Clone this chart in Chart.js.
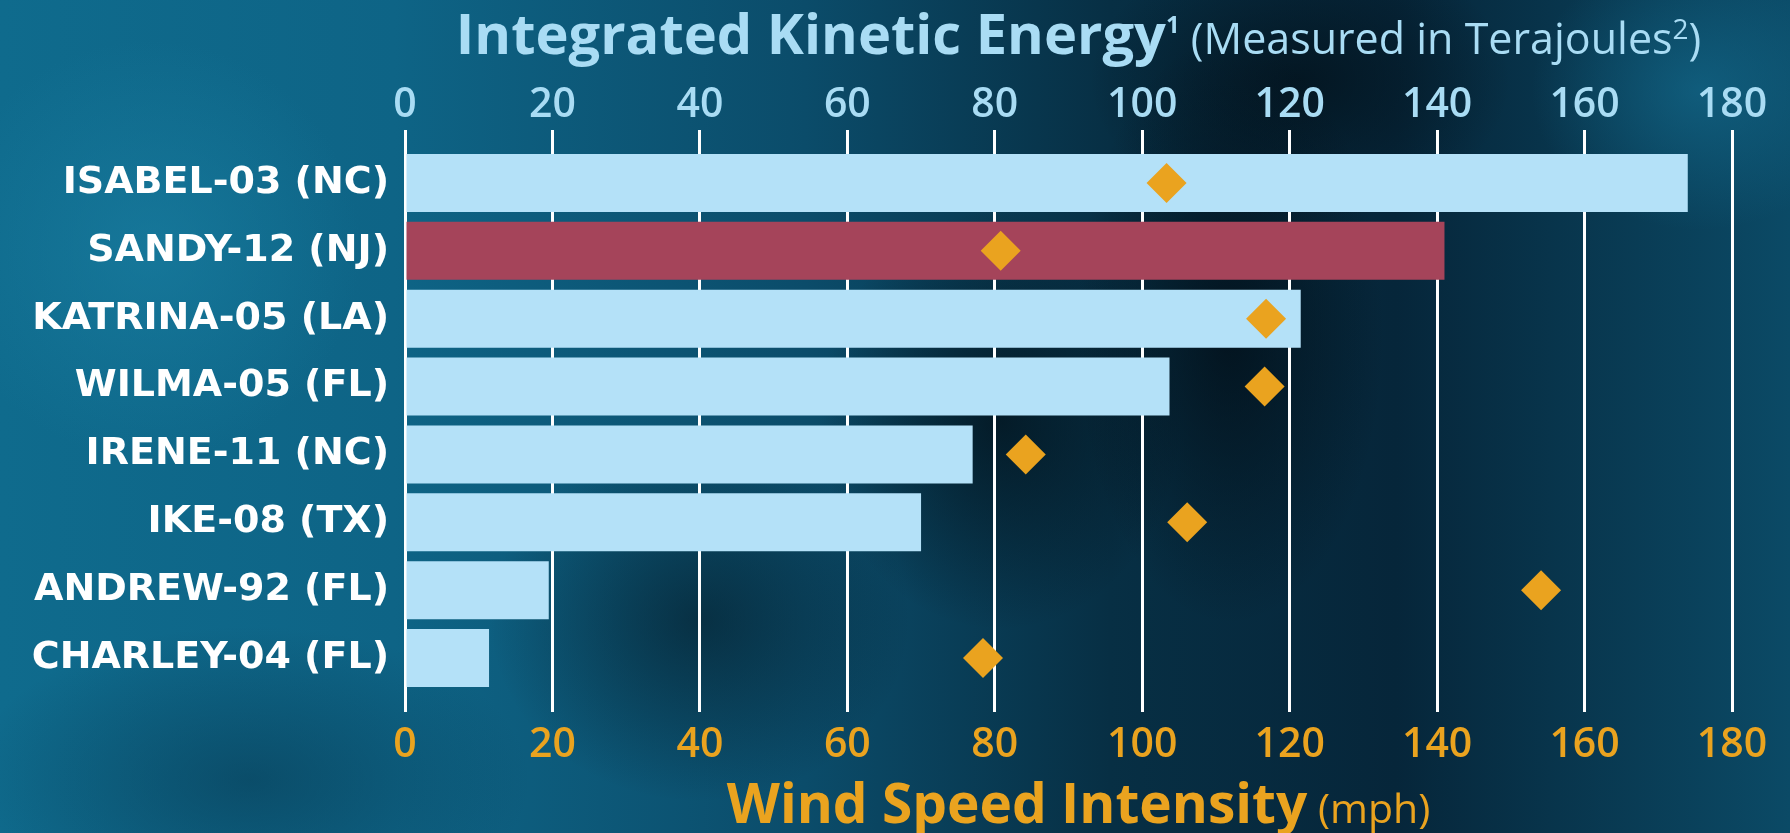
<!DOCTYPE html>
<html>
<head>
<meta charset="utf-8">
<script src="https://cdn.jsdelivr.net/npm/chart.js@4.4.1/dist/chart.umd.min.js"></script>
<style>
html, body { margin:0; padding:0; width:1790px; height:833px; overflow:hidden; }
body {
  background:
    radial-gradient(ellipse 220px 420px at 1230px 330px, rgba(2,12,20,0.75), rgba(2,12,20,0) 70%),
    radial-gradient(ellipse 300px 200px at 1300px 80px, rgba(3,18,28,0.8), rgba(3,18,28,0) 70%),
    radial-gradient(ellipse 260px 300px at 1000px 420px, rgba(2,14,22,0.7), rgba(2,14,22,0) 70%),
    radial-gradient(ellipse 300px 260px at 700px 620px, rgba(4,20,30,0.55), rgba(4,20,30,0) 70%),
    radial-gradient(ellipse 240px 200px at 1700px 90px, rgba(20,110,145,0.6), rgba(20,110,145,0) 70%),
    radial-gradient(ellipse 300px 300px at 150px 250px, rgba(25,125,160,0.7), rgba(25,125,160,0) 70%),
    radial-gradient(ellipse 400px 220px at 250px 780px, rgba(8,60,85,0.6), rgba(8,60,85,0) 70%),
    linear-gradient(90deg, #0f6b8d 0%, #0e6486 22%, #0b4c6a 45%, #072f44 62%, #06263a 78%, #0b4a66 100%);
}
#wrap { position:relative; width:1790px; height:833px; }
</style>
</head>
<body>
<div id="wrap"><canvas id="c" width="1790" height="833"></canvas></div>
<script>
// ---- data ----
const categories = ['ISABEL-03 (NC)', 'SANDY-12 (NJ)', 'KATRINA-05 (LA)', 'WILMA-05 (FL)', 'IRENE-11 (NC)', 'IKE-08 (TX)', 'ANDREW-92 (FL)', 'CHARLEY-04 (FL)'];
const kineticEnergy = [174, 141, 121.5, 103.7, 77, 70, 19.5, 11.4];   // terajoules (top axis)
const windSpeed = [103.3, 80.8, 116.8, 116.6, 84.2, 106.1, 154.1, 78.4]; // mph (bottom axis)
const tickValues = [0, 20, 40, 60, 80, 100, 120, 140, 160, 180];
const highlightCategory = 'SANDY-12 (NJ)';
const topTitleParts = [
  { text: 'Integrated Kinetic Energy', size: 56, weight: '700', rise: 0 },
  { text: '1', size: 24, weight: '700', rise: 21 },
  { text: ' (Measured in Terajoules', size: 43, weight: '400', rise: 0 },
  { text: '2', size: 28, weight: '400', rise: 15 },
  { text: ')', size: 43, weight: '400', rise: 0 }
];
const bottomTitleParts = [
  { text: 'Wind Speed Intensity', size: 55, weight: '700', rise: 0 },
  { text: ' (mph)', size: 41, weight: '400', rise: 0 }
];

// ---- styles ----
const BAR_BLUE = '#b4e1f8';
const BAR_RED = '#a5445a';
const ORANGE = '#eaa31f';
const LIGHT_BLUE = '#a9dcf4';
const FONT = "'Open Sans', 'DejaVu Sans', sans-serif";
const LABEL_FONT = "'DejaVu Sans', 'Open Sans', sans-serif";

function drawRich(ctx, parts, cx, baseline, color) {
  ctx.save();
  ctx.fillStyle = color;
  ctx.textBaseline = 'alphabetic';
  ctx.textAlign = 'left';
  let total = 0;
  const widths = parts.map(p => {
    ctx.font = `${p.weight} ${p.size}px ${FONT}`;
    const w = ctx.measureText(p.text).width;
    total += w;
    return w;
  });
  let x = cx - total / 2;
  parts.forEach((p, i) => {
    ctx.font = `${p.weight} ${p.size}px ${FONT}`;
    ctx.fillText(p.text, x, baseline - p.rise);
    x += widths[i];
  });
  ctx.restore();
}

const richTitles = {
  id: 'richTitles',
  afterDraw(chart) {
    const a = chart.chartArea;
    const cx = (a.left + a.right) / 2 + 10;
    drawRich(chart.ctx, topTitleParts, cx, 54, LIGHT_BLUE);
    drawRich(chart.ctx, bottomTitleParts, cx, 823, ORANGE);
  }
};

const tickCallback = (v) => tickValues.includes(v) ? String(v) : '';

new Chart(document.getElementById('c'), {
  type: 'bar',
  data: {
    labels: categories,
    datasets: [
      {
        type: 'line',
        label: 'Wind Speed Intensity (mph)',
        data: windSpeed,
        indexAxis: 'y',
        xAxisID: 'xBottom',
        yAxisID: 'y',
        showLine: false,
        pointStyle: 'rectRot',
        pointRadius: 20,
        pointHoverRadius: 20,
        pointBackgroundColor: ORANGE,
        pointBorderWidth: 0,
        borderColor: ORANGE,
        order: 0
      },
      {
        type: 'bar',
        label: 'Integrated Kinetic Energy (TJ)',
        data: kineticEnergy,
        xAxisID: 'xTop',
        yAxisID: 'y',
        backgroundColor: categories.map(c => c === highlightCategory ? BAR_RED : BAR_BLUE),
        borderWidth: 0,
        barPercentage: 0.855,
        categoryPercentage: 1.0,
        order: 1
      }
    ]
  },
  options: {
    indexAxis: 'y',
    responsive: false,
    animation: false,
    devicePixelRatio: 1,
    layout: { padding: { left: 0, right: 58, top: 0, bottom: 0 } },
    plugins: {
      legend: { display: false },
      tooltip: { enabled: false },
      title: { display: false }
    },
    scales: {
      xTop: {
        type: 'linear',
        position: 'top',
        min: 0, max: 180,
        afterBuildTicks(s) { s.ticks = tickValues.map(v => ({ value: v })); },
        ticks: { color: LIGHT_BLUE, font: { family: FONT, size: 41, weight: '600' }, padding: 0, callback: tickCallback, maxRotation: 0 },
        grid: { color: '#ffffff', lineWidth: 3, drawTicks: true, tickLength: 19, tickColor: '#ffffff', tickWidth: 3 },
        border: { display: false },
        afterFit(s) { s.height = 149; }
      },
      xBottom: {
        type: 'linear',
        position: 'bottom',
        min: 0, max: 180,
        afterBuildTicks(s) { s.ticks = tickValues.map(v => ({ value: v })); },
        ticks: { color: ORANGE, font: { family: FONT, size: 41, weight: '600' }, padding: 9, callback: tickCallback, maxRotation: 0 },
        grid: { color: '#ffffff', lineWidth: 3, drawTicks: true, tickLength: 20, tickColor: '#ffffff', tickWidth: 3 },
        border: { display: false },
        afterFit(s) { s.height = 833 - 692; }
      },
      y: {
        type: 'category',
        position: 'left',
        grid: { display: false, drawTicks: false },
        border: { display: false },
        ticks: { color: '#ffffff', font: { family: LABEL_FONT, size: 38, weight: '700' }, padding: 16 },
        afterFit(s) { s.width = 405; }
      }
    }
  },
  plugins: [richTitles]
});
</script>
</body>
</html>
